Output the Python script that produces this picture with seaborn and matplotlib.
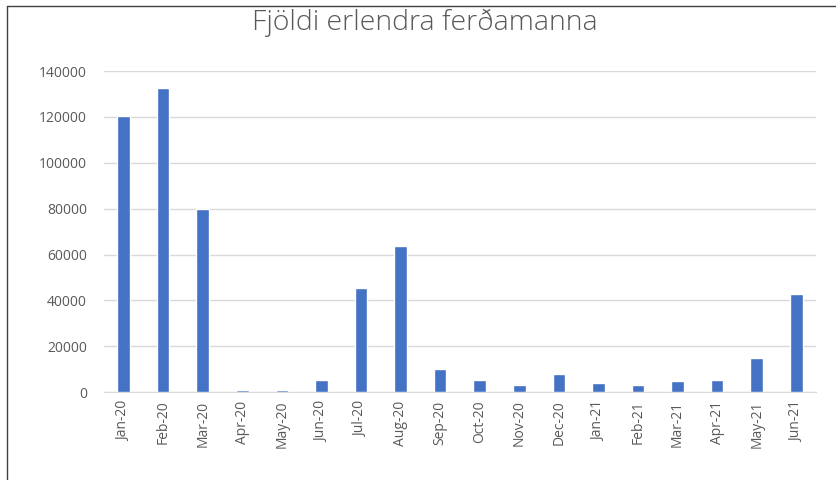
import matplotlib
matplotlib.use("Agg")
import matplotlib.pyplot as plt
import seaborn as sns
import pandas as pd
from matplotlib.lines import Line2D

# Data
months = ["Jan-20", "Feb-20", "Mar-20", "Apr-20", "May-20", "Jun-20",
          "Jul-20", "Aug-20", "Sep-20", "Oct-20", "Nov-20", "Dec-20",
          "Jan-21", "Feb-21", "Mar-21", "Apr-21", "May-21", "Jun-21"]
visitors = [120500, 132600, 79800, 1000, 1000, 5500,
            45600, 63900, 10100, 5400, 3200, 7900,
            4100, 3200, 4800, 5500, 14700, 42800]
yticks = [0, 20000, 40000, 60000, 80000, 100000, 120000, 140000]

df = pd.DataFrame({"month": months, "visitors": visitors})

sns.set_style("white")
plt.rcParams['font.family'] = ['Open Sans', 'DejaVu Sans']

fig = plt.figure(figsize=(8.37, 4.8), dpi=100)
ax = fig.add_axes([0.124, 0.183, 0.851, 0.669])

sns.barplot(data=df, x="month", y="visitors", color="#4472C4",
            width=0.32, saturation=1, ax=ax, zorder=3)

ax.set_ylim(0, 140000)
ax.set_yticks(yticks)
ax.set_yticklabels([str(t) for t in yticks])
ax.set_xlim(-0.5, len(months) - 0.5)
ax.set(xlabel="", ylabel="")
ax.yaxis.grid(True, color="#d9d9d9", linewidth=1, zorder=0)
ax.set_axisbelow(True)
for s in ["top", "right", "left"]:
    ax.spines[s].set_visible(False)
ax.spines["bottom"].set_color("#d9d9d9")
ax.tick_params(axis="x", rotation=90, colors="#595959", labelsize=10, length=0, pad=6)
ax.tick_params(axis="y", colors="#595959", labelsize=10, length=0, pad=12)

fig.text(0.508, 0.952, "Fjöldi erlendra ferðamanna", ha="center", va="center",
         fontsize=20.5, color="#595959", fontweight="light")

# frame edges visible in the reference (left and top only)
fig.lines.append(Line2D([7 / 837, 7 / 837], [0, 1 - 6 / 480], transform=fig.transFigure,
                        color="#404040", linewidth=1))
fig.lines.append(Line2D([7 / 837, 1], [1 - 6 / 480, 1 - 6 / 480], transform=fig.transFigure,
                        color="#404040", linewidth=1))

fig.savefig("out.png", dpi=100)
